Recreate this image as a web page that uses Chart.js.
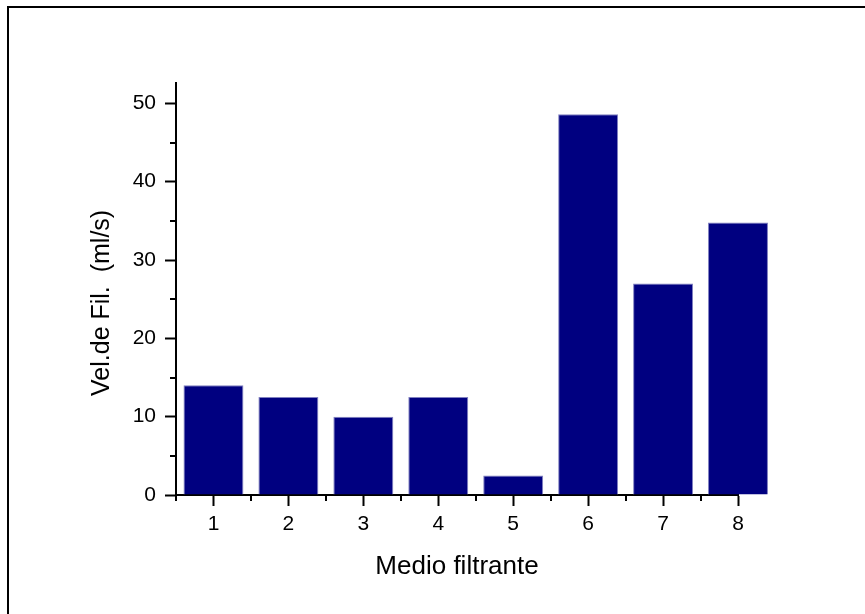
<!DOCTYPE html>
<html>
<head>
<meta charset="utf-8">
<script src="https://cdn.jsdelivr.net/npm/chart.js@4.4.0/dist/chart.umd.min.js"></script>
<style>
  body { margin: 0; background: #fff; }
</style>
</head>
<body>
<canvas id="myChart" width="865" height="614"></canvas>
<script>
const categories = [1, 2, 3, 4, 5, 6, 7, 8];
const velocities = [14, 12.5, 10, 12.5, 2.5, 48.6, 27, 34.8];
const yTicks = [0, 10, 20, 30, 40, 50];
const yMinorTicks = [5, 15, 25, 35, 45];
const xMinorTicks = [0.5, 1.5, 2.5, 3.5, 4.5, 5.5, 6.5, 7.5];

Chart.defaults.font.family = "'Liberation Sans', Arial, sans-serif";
Chart.defaults.color = "#000";

// white page with the frame line, plus the short minor ticks
const frameAndTicks = {
  id: "frameAndTicks",
  beforeDraw(chart) {
    const c = chart.ctx;
    c.save();
    c.fillStyle = "#fff";
    c.fillRect(0, 0, chart.width, chart.height);
    c.strokeStyle = "#000";
    c.lineWidth = 2;
    c.strokeRect(8, 7, 900, 700);
    c.restore();
  },
  afterDraw(chart) {
    const c = chart.ctx;
    const x = chart.scales.x;
    const y = chart.scales.y;
    const area = chart.chartArea;
    c.save();
    c.strokeStyle = "#000";
    c.lineWidth = 2;
    c.beginPath();
    for (let v of yMinorTicks) {
      const py = Math.round(y.getPixelForValue(v));
      c.moveTo(area.left - 6, py);
      c.lineTo(area.left, py);
    }
    for (let v of xMinorTicks) {
      const px = Math.round(x.getPixelForValue(v));
      c.moveTo(px, area.bottom);
      c.lineTo(px, area.bottom + 6);
    }
    c.stroke();
    c.restore();
  },
};

const ctx = document.getElementById("myChart");
const myChart = new Chart(ctx, {
  type: "bar",
  data: {
    datasets: [
      {
        label: "Vel.de Fil.",
        data: categories.map((c, i) => ({ x: c, y: velocities[i] })),
        backgroundColor: "#000080",
        borderColor: "#8080c0",
        borderWidth: 1,
        barPercentage: 0.8,
        categoryPercentage: 1,
        clip: false,
      },
    ],
  },
  options: {
    responsive: false,
    animation: false,
    layout: {
      padding: { left: 0, right: 127, top: 83, bottom: 0 },
    },
    plugins: {
      legend: { display: false },
      tooltip: { enabled: false },
    },
    scales: {
      x: {
        type: "linear",
        min: 0.5,
        max: 8,
        offset: false,
        afterBuildTicks: (s) => {
          s.ticks = categories.map((v) => ({ value: v }));
        },
        afterFit: (s) => {
          s.height = 119;
        },
        grid: {
          offset: false,
          drawOnChartArea: false,
          tickLength: 11,
          tickWidth: 2,
          tickColor: "#000",
        },
        border: { display: true, color: "#000", width: 2 },
        ticks: {
          font: { size: 21 },
          padding: 6,
          maxRotation: 0,
        },
        title: {
          display: true,
          text: "Medio filtrante",
          font: { size: 26 },
          padding: { top: 0, bottom: 32 },
        },
      },
      y: {
        min: 0,
        max: 52.6,
        afterBuildTicks: (s) => {
          s.ticks = yTicks.map((v) => ({ value: v }));
        },
        afterFit: (s) => {
          s.width = 176;
        },
        grid: {
          drawOnChartArea: false,
          tickLength: 11,
          tickWidth: 2,
          tickColor: "#000",
        },
        border: { display: true, color: "#000", width: 2 },
        ticks: {
          font: { size: 21 },
          padding: 9,
        },
        title: {
          display: true,
          text: "Vel.de Fil.  (ml/s)    ",
          font: { size: 25 },
          padding: { top: 87, bottom: 0 },
        },
      },
    },
  },
  plugins: [frameAndTicks],
});
</script>
</body>
</html>
